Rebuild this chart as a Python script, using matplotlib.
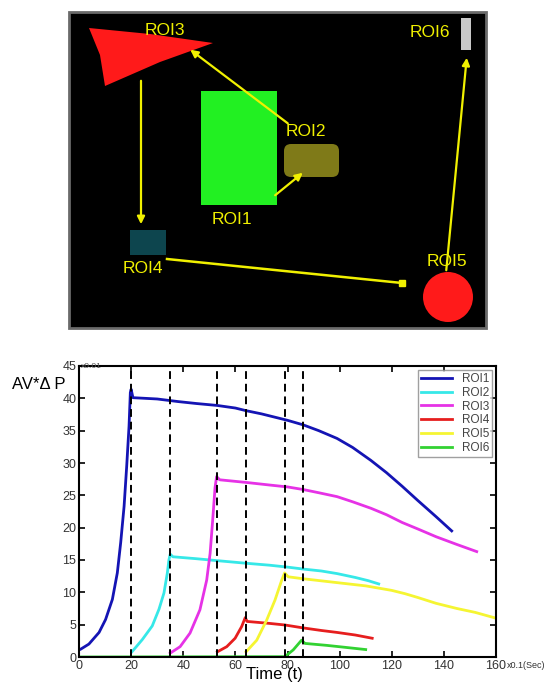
import matplotlib.pyplot as plt
import matplotlib.patches as mpatches

plt.rcParams['font.family'] = ['Liberation Sans', 'DejaVu Sans']

# ---- chart data, time in x0.1 s
roi1_t = [0, 0.6, 3.8, 7.7, 10.2, 12.8, 14.7, 16.0, 17.3, 18.3, 19.2, 19.7, 20.0, 20.7, 30, 38, 45, 53, 60, 64,
          70, 75, 80, 86, 92, 99, 105, 112, 118, 124, 130, 137, 143]
roi1_v = [1.1, 1.2, 2.0, 3.8, 5.8, 8.9, 13.0, 17.7, 23.3, 29.5, 35.7, 40.9, 41.4, 40.1, 39.9, 39.5, 39.2, 38.9, 38.5, 38.1,
          37.6, 37.1, 36.6, 35.9, 35.0, 33.8, 32.4, 30.4, 28.5, 26.4, 24.2, 21.7, 19.5]

roi2_t = [20.3, 22, 24.3, 28.1, 30.7, 32.6, 33.9, 34.5, 35.0, 36.0, 45, 53, 64, 73, 80, 86, 93, 99, 106, 111, 115]
roi2_v = [0.8, 1.6, 2.7, 4.8, 7.4, 9.9, 13.0, 15.0, 15.9, 15.5, 15.2, 14.9, 14.5, 14.2, 13.9, 13.6, 13.3, 12.9, 12.3, 11.8, 11.3]

roi3_t = [35.0, 38.8, 42.6, 46.4, 49.0, 50.3, 51.3, 52.2, 52.8, 54, 64, 73, 80, 86, 92, 99, 105, 112, 118, 124, 130,
          137, 145, 152.6]
roi3_v = [0.6, 1.6, 3.7, 7.3, 11.9, 16.0, 21.2, 26.2, 27.9, 27.4, 27.0, 26.6, 26.3, 25.9, 25.4, 24.8, 24.0, 23.0, 22.0,
          20.8, 19.8, 18.6, 17.4, 16.3]

roi4_t = [53.1, 56.7, 59.9, 62.4, 63.8, 64.5, 73, 79, 86, 93, 99, 106, 112.5]
roi4_v = [0.8, 1.6, 2.9, 4.7, 6.1, 5.5, 5.2, 4.95, 4.5, 4.1, 3.8, 3.4, 2.9]

roi5_t = [64.1, 68.2, 72.0, 75.2, 77.8, 78.9, 80.3, 86, 99, 110, 120, 125, 130, 137, 145, 152, 160]
roi5_v = [0.8, 2.6, 5.7, 8.8, 11.9, 13.0, 12.4, 12.1, 11.5, 11.0, 10.3, 9.8, 9.2, 8.3, 7.5, 6.9, 6.0]

roi6_t = [0, 79.0, 82.2, 85.4, 86.7, 95, 102, 110]
roi6_v = [0.0, 0.05, 1.1, 2.6, 2.1, 1.8, 1.5, 1.15]

series = [('ROI1', roi1_t, roi1_v, '#1414b4'),
          ('ROI2', roi2_t, roi2_v, '#36e8e8'),
          ('ROI3', roi3_t, roi3_v, '#e632e6'),
          ('ROI4', roi4_t, roi4_v, '#e61e1e'),
          ('ROI5', roi5_t, roi5_v, '#f5f532'),
          ('ROI6', roi6_t, roi6_v, '#32d232')]

event_times = [20, 35, 53, 64, 79, 86]

# ---- ROI map (pixel coords of the top panel)
roi3_tri = [(89, 28), (150, 34), (213, 43), (160, 62), (105, 86), (100, 55)]
roi1_box = (201, 91, 76, 114)
roi2_box = (284, 144, 55, 33)
roi4_box = (130, 230, 36, 25)
roi5_circ = (448, 297, 25)
roi6_box = (461, 18, 10, 32)
arrows = [((290, 125), (188, 48)),
          ((273, 197), (305, 171)),
          ((141, 78), (141, 227)),
          ((446, 273), (467, 55))]
roi_labels = [('ROI3', 165, 30), ('ROI6', 430, 32), ('ROI2', 306, 131),
              ('ROI1', 232, 219), ('ROI4', 143, 268), ('ROI5', 447, 261)]

W, H = 548, 691
fig = plt.figure(figsize=(W / 100, H / 100), dpi=100)

bg = fig.add_axes([0, 0, 1, 1])
bg.set_xlim(0, W)
bg.set_ylim(H, 0)
bg.axis('off')

yel = '#f0f000'
bg.add_patch(mpatches.Rectangle((69, 12), 417, 316, facecolor='black', edgecolor='#6a6a6a', lw=2))
bg.add_patch(mpatches.Polygon(roi3_tri, closed=True, facecolor='#ff1a1a', edgecolor='none'))
bg.add_patch(mpatches.Rectangle(roi1_box[:2], roi1_box[2], roi1_box[3], facecolor='#22f022', edgecolor='none'))
bg.add_patch(mpatches.FancyBboxPatch(roi2_box[:2], roi2_box[2], roi2_box[3],
                                     boxstyle='round,pad=0,rounding_size=7',
                                     facecolor='#7f7a18', edgecolor='none'))
bg.add_patch(mpatches.Rectangle(roi4_box[:2], roi4_box[2], roi4_box[3], facecolor='#0d454e', edgecolor='none'))
bg.add_patch(mpatches.Circle(roi5_circ[:2], roi5_circ[2], facecolor='#ff1a1a', edgecolor='none'))
bg.add_patch(mpatches.Rectangle(roi6_box[:2], roi6_box[2], roi6_box[3], facecolor='#c8c8c8', edgecolor='none'))

for (x0, y0), (x1, y1) in arrows:
    bg.annotate('', xy=(x1, y1), xytext=(x0, y0),
                arrowprops=dict(arrowstyle='-|>', color=yel, lw=1.6, mutation_scale=11))
# ROI4 -> ROI5 link with small square end
bg.plot([167, 402], [259, 283], color=yel, lw=1.8)
bg.plot([402], [283], marker='s', ms=4, color=yel)

for txt, x, y in roi_labels:
    bg.text(x, y, txt, color=yel, fontsize=12.5, ha='center', va='center')

# ---- line chart
ax = fig.add_axes([79 / W, (H - 657) / H, (496 - 79) / W, (657 - 366) / H])
for name, t, v, c in series:
    ax.plot(t, v, color=c, lw=2, label=name)
for et in event_times:
    ax.axvline(et, color='black', ls=(0, (4, 2.5)), lw=1.4)

ax.set_xlim(0, 160)
ax.set_ylim(0, 45)
ax.set_xticks(range(0, 161, 20))
ax.set_yticks(range(0, 46, 5))
ax.tick_params(direction='in', top=True, right=True, length=4, width=1.2,
               labelsize=9, labelcolor='#333333', pad=2)
for s in ax.spines.values():
    s.set_linewidth(1.5)

leg = ax.legend(loc='upper right', fontsize=8.5, frameon=True, fancybox=False,
                handlelength=2.6, borderaxespad=0.3, labelspacing=0.15,
                handletextpad=0.8, borderpad=0.3)
leg.get_frame().set_edgecolor('#888888')
leg.get_frame().set_linewidth(1)
for tx in leg.get_texts():
    tx.set_color('#444444')

fig.text(12 / W, 1 - 384 / H, 'AV*Δ P', fontsize=12, ha='left', va='center')
fig.text(274 / W, 1 - 675 / H, 'Time (t)', fontsize=12, ha='center', va='center')
fig.text(81 / W, 1 - 366 / H, 'x0.01', fontsize=6, color='#555555', ha='left', va='center')
fig.text(507 / W, 1 - 666 / H, 'x0.1(Sec)', fontsize=6.5, color='#333333', ha='left', va='center')

fig.savefig('out.png', dpi=100)
